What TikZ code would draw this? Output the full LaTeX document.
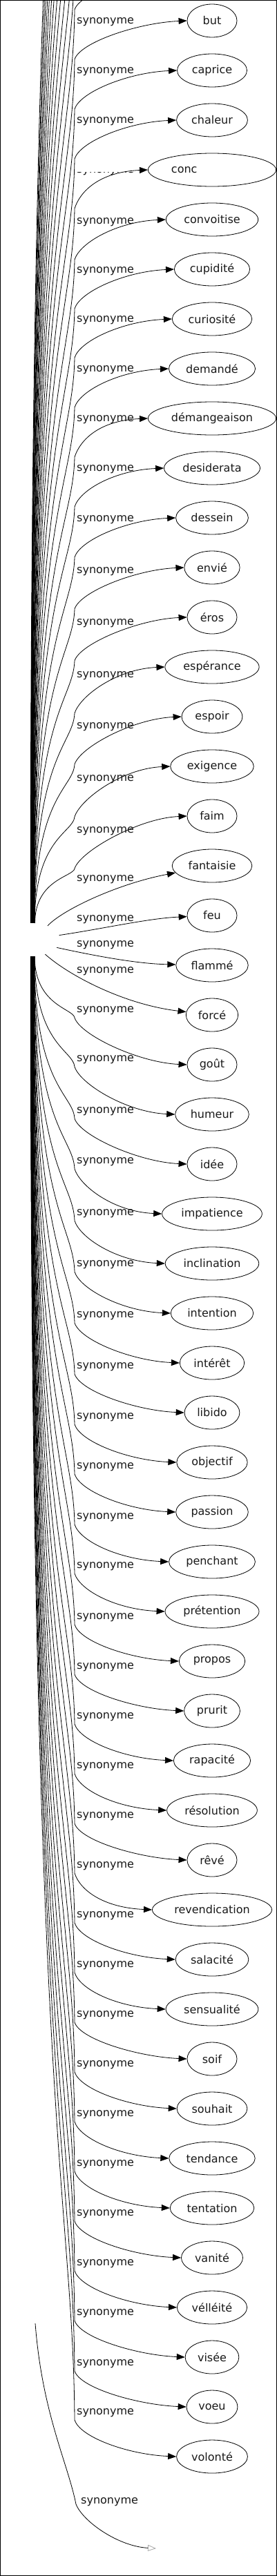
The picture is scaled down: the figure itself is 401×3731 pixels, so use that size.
\documentclass[tikz,border=0pt]{standalone}
\usepackage{fontspec}
\setmainfont{DejaVu Sans}
\usetikzlibrary{shapes.geometric, arrows.meta}

\begin{document}
\begin{tikzpicture}[x=1pt, y=-1pt,
    word/.style={ellipse, draw, line width=0.8pt, minimum width=72pt, minimum height=48pt, inner xsep=6.5pt, inner ysep=2pt, font=\fontsize{16}{19}\selectfont, text=black!90},
    hidden/.style={ellipse, minimum width=84pt, minimum height=48pt, inner sep=0pt},
    lbl/.style={anchor=west, inner sep=0pt, font=\fontsize{16}{19}\selectfont, text=black!90},
    arr/.style={-{Triangle[length=12pt, width=9pt]}, line width=0.8pt},
    ghostarr/.style={-{Triangle[open, length=12pt, width=9pt, color=black!35]}, line width=0.8pt}
]
    \useasboundingbox (0,0) rectangle (401,3731);
    \clip (0,0) rectangle (401,3731);

    \node[hidden] (hub) at (45,1361) {};
    \foreach \j in {1,...,13}
        \coordinate (far\j) at (271, {30-72*\j});

    \foreach \k/\nm/\txt in {0/but/but, 1/caprice/caprice, 2/chaleur/chaleur, 4/convoitise/convoitise,
        5/cupidite/cupidité, 6/curiosite/curiosité, 7/demande/demandé, 8/demangeaison/démangeaison,
        9/desiderata/desiderata, 10/dessein/dessein, 11/envie/envié, 12/eros/éros, 13/esperance/espérance,
        14/espoir/espoir, 15/exigence/exigence, 16/faim/faim, 17/fantaisie/fantaisie, 18/feu/feu,
        19/flamme/flammé, 20/force/forcé, 21/gout/goût, 22/humeur/humeur, 23/idee/idée,
        24/impatience/impatience, 25/inclination/inclination, 26/intention/intention, 27/interet/intérêt,
        28/libido/libido, 29/objectif/objectif, 30/passion/passion, 31/penchant/penchant,
        32/pretention/prétention, 33/propos/propos, 34/prurit/prurit, 35/rapacite/rapacité,
        36/resolution/résolution, 37/reve/rêvé, 38/revendication/revendication, 39/salacite/salacité,
        40/sensualite/sensualité, 41/soif/soif, 42/souhait/souhait, 43/tendance/tendance,
        44/tentation/tentation, 45/vanite/vanité, 46/velleite/vélléité, 47/visee/visée, 48/voeu/voeu,
        49/volonte/volonté}
        \node[word] (\nm) at (307, {30+72*\k}) {\txt};
    \node[word] (conc) at (307, 246) {conc\phantom{upiscence}};

    % edges leaving above the frame
    \foreach \j in {1,...,13} {
        \pgfmathsetmacro\by{86-72*\j}
        \pgfmathsetmacro\L{1337-\by}
        \pgfmathtruncatemacro\a{92-0.5*(13-\j)}
        \draw[arr] (hub.\a) .. controls +(0,{-0.8*\L}) and +(-2,{0.15*\L}) .. (108,\by)
            .. controls +(8,-25) and +(-70,3) .. (far\j);
    }

    \foreach \k/\nm/\lo in {0/but/2, 1/caprice/2, 2/chaleur/2, 3/conc/2, 4/convoitise/4, 5/cupidite/3,
        6/curiosite/2, 7/demande/2, 8/demangeaison/2, 9/desiderata/2, 10/dessein/3, 11/envie/6,
        12/eros/9, 13/esperance/13, 14/espoir/15, 15/exigence/19, 16/faim/22} {
        \pgfmathsetmacro\ty{30+72*\k}
        \pgfmathsetmacro\by{\ty+\lo+54}
        \pgfmathsetmacro\L{1337-\by}
        \pgfmathtruncatemacro\a{92-0.5*(\k+13)}
        \draw[arr] (hub.\a) .. controls +(0,{-0.8*\L}) and +(-2,{0.15*\L}) .. (108,\by)
            .. controls +(8,-25) and +(-70,3) .. (\nm.west);
        \ifnum\k=3 \else
            \node[lbl] (s\nm) at (111, {\ty+\lo}) {synonyme};
        \fi
    }
    \begin{scope}
        \clip (105,249) rectangle (200,256);
        \node[lbl] (sconc) at (111, 248) {synonyme};
    \end{scope}

    \draw[arr] (hub.40) .. controls (90,1318) and (170,1280) .. (fantaisie);
    \draw[arr] (hub.9) .. controls (150,1345) and (215,1330) .. (feu);
    \draw[arr] (hub.-17) .. controls (140,1385) and (200,1396) .. (flamme);
    \draw[arr] (hub.-46) .. controls (100,1413) and (180,1455) .. (force);
    \node[lbl] (sfantaisie) at (111,1274) {synonyme};
    \node[lbl] (sfeu) at (111,1332) {synonyme};
    \node[lbl] (sflamme) at (111,1369) {synonyme};
    \node[lbl] (sforce) at (111,1407) {synonyme};

    \foreach \k/\nm/\lo in {21/gout/-78, 22/humeur/-79, 23/idee/-76, 24/impatience/-75, 25/inclination/-72,
        26/intention/-70, 27/interet/-68, 28/libido/-66, 29/objectif/-65, 30/passion/-65, 31/penchant/-64,
        32/pretention/-65, 33/propos/-63, 34/prurit/-63, 35/rapacite/-63, 36/resolution/-63, 37/reve/-63,
        38/revendication/-63, 39/salacite/-63, 40/sensualite/-63, 41/soif/-63, 42/souhait/-63,
        43/tendance/-63, 44/tentation/-63, 45/vanite/-63, 46/velleite/-63, 47/visee/-63, 48/voeu/-62,
        49/volonte/-63} {
        \pgfmathsetmacro\ty{30+72*\k}
        \pgfmathsetmacro\by{\ty+\lo+10}
        \pgfmathsetmacro\L{\by-1385}
        \pgfmathtruncatemacro\a{-92+0.5*(49-\k)}
        \draw[arr] (hub.\a) .. controls +(0,{0.8*\L}) and +(-2,{-0.15*\L}) .. (108,\by)
            .. controls +(8,25) and +(-70,-3) .. (\nm.west);
        \node[lbl] (s\nm) at (111, {\ty+\lo}) {synonyme};
    }

    \coordinate (gstart) at (51,3365);
    \coordinate (ghost) at (226,3691);
    \draw[ghostarr] (gstart) .. controls +(10,130) and +(-12,-60) .. (110,3627)
        .. controls +(10,25) and +(-55,-3) .. (ghost);
    \node[lbl] (sghost) at (117,3624) {synonyme};

    \draw[line width=1.2pt] (0.6,0.6) rectangle (400.4,3730.4);
\end{tikzpicture}
\end{document}
